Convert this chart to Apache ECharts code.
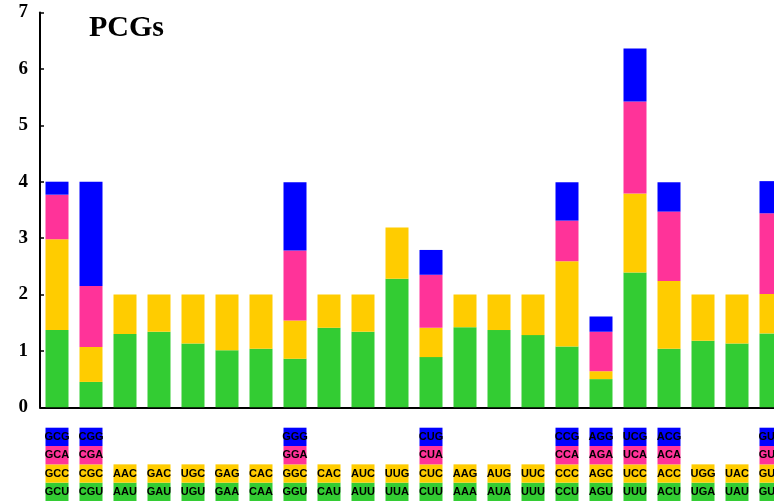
<!DOCTYPE html>
<html>
<head>
<meta charset="utf-8">
<script src="https://cdn.jsdelivr.net/npm/echarts@6/dist/echarts.min.js"></script>
<style>html,body{margin:0;padding:0;background:#fff}#c{width:774px;height:501px}</style>
</head>
<body>
<div id="c"></div>
<script>
const categories = ['Ala','Arg','Asn','Asp','Cys','Glu','Gln','Gly','His','Ile','Leu2','Leu4','Lys','Met','Phe','Pro','Ser2','Ser4','Thr','Trp','Tyr','Val'];
const codon1 = ['GCU','CGU','AAU','GAU','UGU','GAA','CAA','GGU','CAU','AUU','UUA','CUU','AAA','AUA','UUU','CCU','AGU','UUU','ACU','UGA','UAU','GUU'];
const codon2 = ['GCC','CGC','AAC','GAC','UGC','GAG','CAC','GGC','CAC','AUC','UUG','CUC','AAG','AUG','UUC','CCC','AGC','UCC','ACC','UGG','UAC','GUC'];
const codon3 = ['GCA','CGA',null,null,null,null,null,'GGA',null,null,null,'CUA',null,null,null,'CCA','AGA','UCA','ACA',null,null,'GUA'];
const codon4 = ['GCG','CGG',null,null,null,null,null,'GGG',null,null,null,'CUG',null,null,null,'CCG','AGG','UCG','ACG',null,null,'GUG'];
const rscu1 = [1.37,0.45,1.30,1.34,1.13,1.01,1.04,0.86,1.41,1.34,2.28,0.89,1.42,1.37,1.28,1.08,0.50,2.39,1.04,1.18,1.13,1.31];
const rscu2 = [1.61,0.62,0.70,0.66,0.87,0.99,0.96,0.68,0.59,0.66,0.91,0.52,0.58,0.63,0.72,1.51,0.14,1.40,1.20,0.82,0.87,0.70];
const rscu3 = [0.79,1.08,null,null,null,null,null,1.24,null,null,null,0.94,null,null,null,0.72,0.70,1.63,1.23,null,null,1.43];
const rscu4 = [0.23,1.85,null,null,null,null,null,1.21,null,null,null,0.44,null,null,null,0.68,0.27,0.94,0.52,null,null,0.57];
const yTicks = [0,1,2,3,4,5,6,7];
const colors = ['#33CC33','#FFCC00','#FF3399','#0000FF'];

const codons = [codon1, codon2, codon3, codon4];
const rscus = [rscu1, rscu2, rscu3, rscu4];

const chart = echarts.init(document.getElementById('c'));
const series = [];
rscus.forEach((vals, i) => {
  series.push({
    type: 'bar', xAxisIndex: 0, yAxisIndex: 0, stack: 'rscu',
    barWidth: 23, data: vals,
    itemStyle: { color: colors[i] }
  });
});
codons.forEach((cs, i) => {
  series.push({
    type: 'bar', xAxisIndex: 1, yAxisIndex: 1, stack: 'box',
    barWidth: 23, data: cs.map(c => c ? 1 : null),
    itemStyle: { color: colors[i] },
    label: {
      show: true, position: 'inside',
      formatter: p => cs[p.dataIndex],
      color: '#000', fontFamily: 'Liberation Sans', fontWeight: 'bold', fontSize: 11
    }
  });
});

chart.setOption({
  animation: false,
  title: {
    text: 'PCGs', left: 84, top: 8,
    textStyle: { fontFamily: 'Liberation Serif', fontWeight: 'bold', fontSize: 30, color: '#000' }
  },
  grid: [
    { left: 40, width: 748, top: 12.5, height: 394.8, outerBoundsMode: 'none', containLabel: false },
    { left: 40, width: 748, top: 427.7, height: 73.3, outerBoundsMode: 'none', containLabel: false }
  ],
  xAxis: [
    { type: 'category', gridIndex: 0, data: categories,
      axisLine: { lineStyle: { color: '#000', width: 2 } },
      axisTick: { show: false }, axisLabel: { show: false } },
    { type: 'category', gridIndex: 1, data: categories, show: false }
  ],
  yAxis: [
    { type: 'value', gridIndex: 0, min: yTicks[0], max: yTicks[yTicks.length-1], interval: 1,
      axisLine: { show: true, lineStyle: { color: '#000', width: 2 } },
      axisTick: { show: true, inside: true, length: 4, lineStyle: { color: '#000', width: 1.5 } },
      splitLine: { show: false },
      axisLabel: { color: '#000', fontFamily: 'Liberation Serif', fontWeight: 'bold', fontSize: 19, margin: 12 } },
    { type: 'value', gridIndex: 1, min: 0, max: 4, show: false, splitLine: { show: false } }
  ],
  series: series
});
</script>
</body>
</html>
